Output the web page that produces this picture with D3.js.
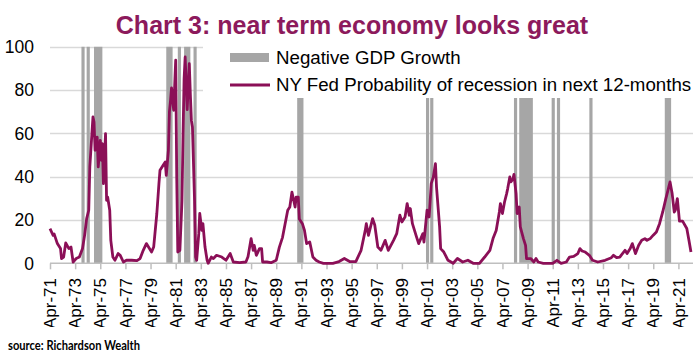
<!DOCTYPE html>
<html>
<head>
<meta charset="utf-8">
<script src="https://cdn.jsdelivr.net/npm/d3@7"></script>
<style>
  body { margin: 0; background: #fff; }
  svg { display: block; font-family: Arial, "Liberation Sans", sans-serif; }
</style>
</head>
<body>
<script>
// monthly readings (sampled) of the NY Fed recession probability, %
const months = [
  '1971-04','1971-07','1971-08','1971-11','1972-02','1972-03','1972-05','1972-07','1972-10','1972-12',
  '1973-02','1973-05','1973-08','1973-11','1974-01','1974-03','1974-05','1974-06','1974-08','1974-09',
  '1974-10','1974-11','1975-01','1975-02','1975-04','1975-05','1975-06','1975-07','1975-09','1975-10',
  '1975-11','1976-01','1976-02','1976-04','1976-06','1976-09','1976-11','1977-02','1977-05','1977-10',
  '1978-03','1978-06','1978-09','1978-12','1979-02','1979-05','1979-07','1979-10','1979-12','1980-01',
  '1980-04','1980-06','1980-07','1980-09','1980-10','1980-11','1980-12','1981-02','1981-04','1981-05',
  '1981-06','1981-08','1981-10','1981-11','1981-12','1982-01','1982-03','1982-05','1982-06','1982-07',
  '1982-08','1982-10','1982-11','1982-12','1983-02','1983-03','1983-05','1983-06','1983-08','1983-10',
  '1983-11','1984-02','1984-04','1984-07','1984-12','1985-04','1985-08','1985-11','1986-05','1986-11',
  '1987-01','1987-04','1987-06','1987-07','1987-09','1987-12','1988-02','1988-03','1988-07','1988-11',
  '1989-04','1989-07','1989-10','1990-02','1990-03','1990-05','1990-07','1990-08','1990-10','1990-11',
  '1991-01','1991-02','1991-05','1991-07','1991-09','1991-12','1992-03','1992-06','1992-09','1993-01',
  '1993-10','1994-04','1994-09','1995-02','1995-08','1996-01','1996-05','1996-06','1996-08','1996-12',
  '1997-02','1997-05','1997-08','1997-12','1998-03','1998-08','1998-11','1999-02','1999-04','1999-07',
  '1999-09','1999-11','1999-12','2000-02','2000-06','2000-08','2000-12','2001-01','2001-04','2001-06',
  '2001-08','2001-10','2001-12','2002-01','2002-04','2002-05','2002-08','2002-12','2003-05','2003-09',
  '2004-02','2004-07','2004-12','2005-06','2005-11','2006-04','2006-07','2006-10','2007-01','2007-02',
  '2007-04','2007-06','2007-08','2007-09','2007-11','2007-12','2008-02','2008-03','2008-05','2008-06',
  '2008-08','2008-09','2008-12','2009-02','2009-03','2009-07','2009-10','2009-12','2010-02','2010-07',
  '2011-04','2011-08','2011-12','2012-05','2012-08','2012-12','2013-04','2013-06','2013-08','2013-11',
  '2014-03','2014-06','2014-11','2015-06','2015-12','2016-02','2016-05','2016-08','2017-01','2017-03',
  '2017-06','2017-08','2017-11','2018-02','2018-05','2018-08','2018-10','2019-01','2019-04','2019-07',
  '2019-10','2020-01','2020-04','2020-06','2020-08','2020-10','2020-12','2021-01','2021-03','2021-05',
  '2021-08','2021-12','2022-02','2022-04'
]
const probability = [
  16, 12.9, 13.5, 9.1, 6.8, 2.2, 2.9, 9.4, 6.8, 7.5,
  0.6, 2.2, 2.9, 6.8, 12.9, 20.6, 24.5, 44.5, 59.9, 67.6,
  65.3, 52.2, 58.3, 44.5, 56.8, 47.6, 55.3, 36.8, 59.9, 29.1,
  30.6, 24.5, 10.6, 2.9, 1.4, 4.5, 3.7, 0.6, 1.4, 1.4,
  1.2, 2.2, 6, 9.1, 7.5, 5.2, 7.5, 23, 36.8, 43,
  45.3, 46.8, 40.6, 52.2, 70, 75, 81, 70.7, 93.8, 40,
  5.2, 6, 29, 60, 85, 95.3, 71, 92.2, 78, 66,
  63, 29, 2.9, 1.4, 13.7, 23, 15.2, 18.3, 7.5, 1.4,
  0, 2.9, 2.2, 3.7, 2.9, 1.4, 4.5, 0.6, 0.3, 0.6,
  3, 11.4, 6, 8.3, 3.7, 6.8, 6.8, 0.6, 0.6, 0.3,
  1.4, 7.5, 12, 22.2, 24.5, 26, 32.9, 30.6, 26, 30.6,
  30.6, 20.5, 18.3, 15.2, 9.1, 9.8, 2.9, 1.4, 0.6, 0,
  0, 0.8, 2.2, 0.8, 0.8, 6, 15.2, 18.3, 12.9, 20.6,
  17.7, 7.5, 6, 10.6, 6, 10.6, 13.7, 22.2, 19.1, 21.4,
  27.6, 22.2, 25.3, 18.3, 12.1, 9.1, 13.7, 9.8, 24.5, 21.4,
  36.8, 39.9, 46, 35.2, 16.8, 6.8, 5.2, 1.4, 0, 2.2,
  0.6, 1.4, 0, 0, 2.9, 6, 11.4, 15.2, 23.7, 27.6,
  23, 28.3, 32.2, 34.5, 39.9, 37.6, 39, 41.1, 32.2, 23,
  26, 16.8, 11.4, 8.3, 2.2, 2.2, 0.6, 2.2, 0.6, 0,
  0, 1.4, 0, 0.6, 2.9, 3.2, 4.5, 6.8, 5.7, 5.2,
  3.7, 1.4, 0.6, 1.4, 2.6, 3.7, 2.6, 2.9, 6, 4.5,
  6.8, 9.1, 4.5, 8.3, 10.6, 11.4, 10.6, 11.4, 13, 14.5,
  18.3, 23.7, 29.9, 33.7, 37.6, 32.2, 23.7, 24.5, 29.9, 19.5,
  19.5, 16.1, 10.6, 5.2
]

// negative GDP growth periods (bar from start month to end month)
const gdpStart = ['1973-10','1974-03','1974-10','1980-07','1981-06','1981-12','1982-09','1990-12',
  '2001-03','2001-07','2008-03','2008-08','2011-03','2011-08','2014-03','2020-03']
const gdpEnd = ['1974-01','1974-06','1975-06','1981-01','1981-09','1982-06','1982-12','1991-06',
  '2001-06','2001-10','2008-06','2009-09','2011-06','2011-11','2014-06','2020-09']

const yTicks = [0, 20, 40, 60, 80, 100]
const tickYears = d3.range(1971, 2022, 2)
const legendLabels = ['Negative GDP Growth', 'NY Fed Probability of recession in next 12-months']

const w = 700
const h = 360
const parse = d3.timeParse('%Y-%m')
const fmt = d3.timeFormat('%b-%y')

const lineColor = '#8b0f57'
const barColor = '#a6a6a6'

const svg = d3.select('body').append('svg')
    .attr('width', w)
    .attr('height', h)

const x = d3.scaleTime()
    .domain([parse('1971-04'), parse('2022-05')])
    .range([50, 692])

const y = d3.scaleLinear()
    .domain([0, 100])
    .range([263.3, 46.8])

// title
svg.append('text')
    .attr('x', 352)
    .attr('y', 34)
    .attr('text-anchor', 'middle')
    .style('font-weight', 'bold')
    .style('font-size', '25px')
    .style('fill', '#8c1a5c')
    .text('Chart 3: near term economy looks great')

// gridlines
svg.append('g')
    .selectAll('line')
    .data(yTicks.filter(d => d > 0))
    .enter()
    .append('line')
        .attr('x1', 50)
        .attr('x2', 693)
        .attr('y1', d => Math.round(y(d)) + 0.5)
        .attr('y2', d => Math.round(y(d)) + 0.5)
        .attr('stroke', '#d9d9d9')
        .attr('stroke-width', 1.5)

// recession bars
svg.append('g')
    .selectAll('rect')
    .data(gdpStart.map((s, i) => [parse(s), parse(gdpEnd[i])]))
    .enter()
    .append('rect')
        .attr('x', d => x(d[0]))
        .attr('width', d => x(d[1]) - x(d[0]))
        .attr('y', y(100))
        .attr('height', y(0) - y(100))
        .attr('fill', barColor)

// y labels
svg.append('g')
    .selectAll('text')
    .data(yTicks)
    .enter()
    .append('text')
        .attr('x', 34)
        .attr('y', d => y(d))
        .attr('dy', '0.36em')
        .attr('text-anchor', 'end')
        .style('font-size', '17.5px')
        .style('fill', '#000')
        .text(d => d)

// x axis
const xAxis = d3.axisBottom(x)
    .tickValues(tickYears.map(yr => new Date(yr, 3, 1)))
    .tickSize(6)
    .tickFormat('')

const axisG = svg.append('g')
    .attr('transform', `translate(0, ${y(0)})`)
    .call(xAxis)
axisG.select('.domain').attr('stroke', '#bfbfbf').attr('stroke-width', 1.5)
    .attr('d', `M50,0H693`)
axisG.selectAll('.tick line').attr('stroke', '#bfbfbf').attr('stroke-width', 1.5)

svg.append('clipPath')
    .attr('id', 'lab-clip')
    .append('rect')
        .attr('x', 0).attr('y', 270).attr('width', w).attr('height', 57)

svg.append('g')
    .attr('clip-path', 'url(#lab-clip)')
    .selectAll('text')
    .data(tickYears)
    .enter()
    .append('text')
        .attr('transform', d => `translate(${x(new Date(d, 3, 1))}, 278) rotate(-90)`)
        .attr('text-anchor', 'end')
        .attr('dy', '0.36em')
        .style('font-size', '17px')
        .text(d => fmt(new Date(d, 3, 1)))

// probability line
const line = d3.line()
    .x((d, i) => x(parse(months[i])))
    .y(d => y(d))

svg.append('path')
    .datum(probability)
    .attr('d', line)
    .attr('fill', 'none')
    .attr('stroke', lineColor)
    .attr('stroke-width', 2.8)
    .attr('stroke-linejoin', 'round')

// legend
const legend = svg.append('g')
legend.append('rect')
    .attr('x', 203)
    .attr('y', 42)
    .attr('width', 497)
    .attr('height', 56)
    .attr('fill', '#fff')

legend.append('rect')
    .attr('x', 230).attr('y', 53)
    .attr('width', 39).attr('height', 9)
    .attr('fill', barColor)

legend.append('line')
    .attr('x1', 230).attr('x2', 270)
    .attr('y1', 85).attr('y2', 85)
    .attr('stroke', lineColor)
    .attr('stroke-width', 3)

legend.selectAll('.leg-text')
    .data(legendLabels)
    .enter()
    .append('text')
        .attr('class', 'leg-text')
        .attr('x', 276)
        .attr('y', (d, i) => 63.5 + i * 27.5)
        .style('font-size', '18.7px')
        .text(d => d)

// source
svg.append('text')
    .attr('x', 8)
    .attr('y', 350)
    .attr('textLength', 132)
    .attr('lengthAdjust', 'spacingAndGlyphs')
    .style('font-family', 'Lato, "Open Sans", sans-serif')
    .style('font-weight', 'bold')
    .style('font-size', '12.5px')
    .text('source: Richardson Wealth')
</script>
</body>
</html>
